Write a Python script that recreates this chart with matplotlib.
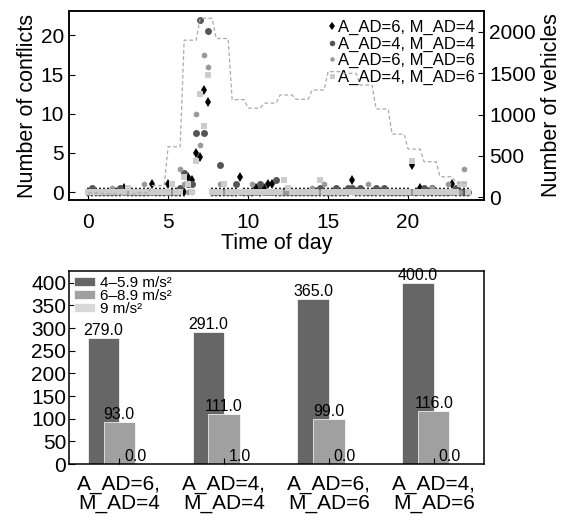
import matplotlib.pyplot as plt
import numpy as np

plt.rcParams['font.family'] = ['Liberation Sans', 'DejaVu Sans']

# quarter-hour time grid (96 samples over one day)
time_of_day = np.arange(96) * 0.25

conf_a6_m4 = [0, 0, 0, 0, 0, 0, 0, 0, 0, 0.5, 0, 0, 0, 0, 0, 0,
              1, 0, 0, 0, 1, 0, 0, 0, 0, 2, 1.5, 5, 4.5, 13, 11.5, 0,
              0, 0, 0, 0, 0, 0, 2, 0, 0, 0, 0.5, 0, 0.5, 1, 1, 0,
              0, 0, 0, 0, 0, 0, 0, 0, 0, 0, 0, 0, 0, 0, 0, 0,
              0, 0, 1.5, 0, 0, 0, 0, 0, 0, 0, 0, 0, 0, 0, 0, 0,
              0, 3.5, 0, 0.5, 0, 0, 0, 0, 0, 0, 0, 1, 0, 0, 0, 0]
conf_a4_m4 = [0, 0.5, 0, 0, 0, 0, 0, 0, 0.5, 0, 0, 0, 0, 0, 0, 0,
              0, 0, 0, 0, 0, 0, 0, 0.5, 2.5, 1, 1, 7.5, 22, 7.5, 20.5, 0,
              0, 3.5, 0, 0, 0, 1, 0, 0, 0, 0, 0, 1, 0, 0, 0, 1.5,
              0, 0, 0, 0, 0, 0, 0, 0, 0, 0, 0.5, 0, 0, 0, 0.5, 0,
              0, 0.5, 0.5, 0, 0.5, 0, 0, 0, 0.5, 0, 0.5, 0, 0, 0, 0, 0,
              0, 0, 0, 0, 0.5, 0, 0.5, 0, 0, 0, 0, 0, 0.5, 0, 0, 0]
conf_a6_m6 = [0, 0, 0, 0, 0, 0, 0.5, 0, 0, 0, 0, 0, 0, 0, 1, 0,
              0, 0, 0, 0, 0, 0, 0, 3, 1, 0, 0, 10, 6, 17.5, 16, 0,
              0, 1, 0, 0, 0, 0, 0, 0, 0, 1, 0, 0, 0, 0, 0, 0,
              0, 0, 0, 0, 0, 0, 0, 0, 0.5, 0, 0, 1, 0, 0, 0, 0,
              0, 0, 0, 0, 0, 0, 1, 0, 0, 0, 0, 0, 0, 0, 0, 0,
              0, 0, 0, 0, 0, 0, 0.5, 0, 0, 0, 1, 0, 0, 0, 3, 0]
conf_a4_m6 = [0, 0, 0, 0, 0, 0, 0, 0, 0, 0, 0.5, 0, 0, 0, 0, 0,
              0, 0, 0, 0, 0, 1, 0, 0, 2, 1, 0, 4, 12.5, 8.5, 15, 0,
              0, 0, 1, 0, 0, 0, 0, 0, 0, 0, 0, 0, 0, 0, 0, 0,
              0, 1.5, 0.5, 0, 0, 0, 0, 0, 0, 0, 1.5, 0, 0, 0, 0, 0,
              0, 0, 0, 0, 0, 0, 0, 0, 0, 0, 0, 0, 0, 0, 0, 0,
              0, 4, 0, 0, 0, 0, 0, 0, 0, 0, 0, 0, 0, 1, 1, 0]

vehicles = [50, 50, 50, 50, 40, 40, 40, 40, 30, 30, 30, 30, 50, 50, 50, 50,
            140, 140, 140, 140, 610, 610, 610, 610, 1900, 1900, 1900, 1900, 2165, 2165, 2165, 2165,
            1920, 1920, 1920, 1920, 1180, 1180, 1180, 1180, 1077, 1077, 1077, 1077, 1138, 1138, 1138, 1138,
            1236, 1236, 1236, 1236, 1184, 1184, 1184, 1184, 1297, 1297, 1297, 1297, 1519, 1519, 1519, 1519,
            1499, 1499, 1499, 1499, 1357, 1357, 1357, 1357, 1067, 1067, 1067, 1067, 763, 763, 763, 763,
            582, 582, 582, 582, 428, 428, 428, 428, 246, 246, 246, 246, 170, 170, 170, 170]

scenarios = ["A_AD=6,\nM_AD=4", "A_AD=4,\nM_AD=4", "A_AD=6,\nM_AD=6", "A_AD=4,\nM_AD=6"]
decel_low = [279, 291, 365, 400]
decel_mid = [93, 111, 99, 116]
decel_high = [0, 1, 0, 0]

fig = plt.figure(figsize=(5.64, 5.21), dpi=100)

# --- top: conflicts over the day ---
ax1 = fig.add_axes([0.1223, 0.616, 0.736, 0.363])
series = [
    (conf_a6_m4, "A_AD=6, M_AD=4", "d", "#000000", 5.5),
    (conf_a4_m4, "A_AD=4, M_AD=4", "o", "#555555", 5),
    (conf_a6_m6, "A_AD=6, M_AD=6", "h", "#999999", 4.5),
    (conf_a4_m6, "A_AD=4, M_AD=6", "s", "#cccccc", 4.5),
]
for vals, lab, mk, col, ms in series:
    ax1.plot(time_of_day, vals, linestyle="none", marker=mk, color=col,
             markersize=ms, markeredgewidth=0, label=lab)

ax1.set_xlim(-1.2, 24.75)
ax1.set_ylim(-1.0, 23.1)
ax1.set_xticks([0, 5, 10, 15, 20])
ax1.set_yticks([0, 5, 10, 15, 20])
ax1.set_xlabel("Time of day", fontsize=15.5, labelpad=1)
ax1.set_ylabel("Number of conflicts", fontsize=15.5, labelpad=2)
ax1.tick_params(direction="in", labelsize=15, length=4)
ax1.tick_params(axis="x", pad=9)
ax1.legend(loc="upper right", frameon=False, fontsize=12, handlelength=0.5,
           handletextpad=0.1, labelspacing=0.08, borderaxespad=0.45,
           borderpad=0.1, markerscale=0.8)

ax2 = ax1.twinx()
ax2.plot(time_of_day, vehicles, linestyle="--", color="#aaaaaa", linewidth=0.9,
         dashes=(3, 2))
ax2.set_ylim(-36, 2254)
ax2.set_yticks([0, 500, 1000, 1500, 2000])
ax2.set_ylabel("Number of vehicles", fontsize=15.5, labelpad=4)
ax2.tick_params(direction="in", labelsize=15, length=4)

# --- bottom: conflicts by deceleration ---
ax3 = fig.add_axes([0.1223, 0.1094, 0.736, 0.3704])
x = np.arange(len(scenarios))
w = 0.3
b1 = ax3.bar(x - w / 2, decel_low, w, color="#666666", edgecolor="white",
             linewidth=0.5, label="4–5.9 m/s²")
b2 = ax3.bar(x, decel_mid, w, color="#a0a0a0", edgecolor="white",
             linewidth=0.5, label="6–8.9 m/s²")
b3 = ax3.bar(x + w / 2, decel_high, w, color="#d8d8d8", edgecolor="white",
             linewidth=0.5, label="9 m/s²")
for bars in (b1, b2, b3):
    ax3.bar_label(bars, fmt="%.1f", fontsize=11.5, padding=0)

ax3.set_xlim(-0.48, 3.48)
ax3.set_ylim(0, 426)
ax3.set_yticks(range(0, 401, 50))
ax3.set_xticks(x)
ax3.set_xticklabels(scenarios, linespacing=0.95)
ax3.tick_params(direction="in", labelsize=15, length=4)
ax3.tick_params(axis="y", pad=2)
ax3.tick_params(axis="x", pad=8)
ax3.legend(loc="upper left", frameon=False, fontsize=11, handlelength=1.4,
           handleheight=0.55, handletextpad=0.3, labelspacing=-0.05,
           borderaxespad=0.2, borderpad=0.1)

for ax in (ax1, ax2, ax3):
    for s in ax.spines.values():
        s.set_linewidth(1.1)

plt.savefig("out.png", dpi=100)
